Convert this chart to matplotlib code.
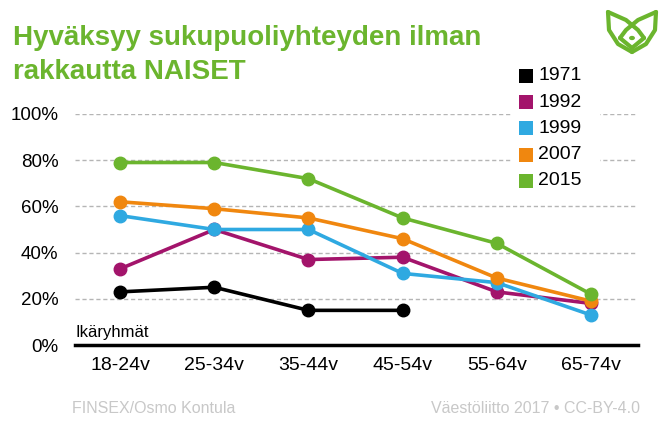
import matplotlib
matplotlib.use("Agg")
import matplotlib.pyplot as plt
from matplotlib.patches import Polygon, Circle
from matplotlib.lines import Line2D

plt.rcParams["font.family"] = ["Liberation Sans", "DejaVu Sans"]

# data
age_groups = ["18-24v", "25-34v", "35-44v", "45-54v", "55-64v", "65-74v"]
years = ["1971", "1992", "1999", "2007", "2015"]
share_1971 = [23, 25, 15, 15]
share_1992 = [33, 50, 37, 38, 23, 18]
share_1999 = [56, 50, 50, 31, 27, 13]
share_2007 = [62, 59, 55, 46, 29, 19]
share_2015 = [79, 79, 72, 55, 44, 22]
y_ticks = [0, 20, 40, 60, 80, 100]

series = [share_1971, share_1992, share_1999, share_2007, share_2015]
colors = ["#000000", "#a3146b", "#2fa9e1", "#f0870f", "#6bb52e"]
green = "#6bb52e"

fig = plt.figure(figsize=(6.62, 4.4), dpi=100)
ax = fig.add_axes([75 / 662, 1 - 345 / 440, (638 - 75) / 662, (345 - 114) / 440])

x = list(range(len(age_groups)))
ax.set_xlim(-0.48, 5.5)
ax.set_ylim(0, 100)

# dashed grid
for t in y_ticks[1:]:
    ax.axhline(t, color="#b5b5b5", lw=1, ls=(0, (3, 2)), zorder=1)
ax.axhline(0, color="black", lw=2.5, zorder=2, clip_on=False)

for vals, c in zip(series, colors):
    ax.plot(x[:len(vals)], vals, color=c, lw=2.6, marker="o", ms=9,
            zorder=3, clip_on=False)

for s in ax.spines.values():
    s.set_visible(False)
ax.set_yticks(y_ticks)
ax.set_yticklabels([f"{t}%" for t in y_ticks], fontsize=13.5)
ax.set_xticks(x)
ax.set_xticklabels(age_groups, fontsize=14)
ax.tick_params(length=0)
ax.tick_params(axis="y", pad=12)
ax.tick_params(axis="x", pad=9)

ax.text(-0.47, 2, "Ikäryhmät", fontsize=12, va="bottom", ha="left")


def fp(px, py):
    return [px / 662, 1 - py / 440]


# legend drawn by hand with white box behind it (hides gridlines)
fig.patches.append(Polygon([fp(512, 60), fp(600, 60), fp(600, 194), fp(512, 194)],
                           closed=True, transform=fig.transFigure,
                           facecolor="white", edgecolor="none", zorder=5))
for i, (yr, c) in enumerate(zip(years, colors)):
    yc = 76 + i * 26.2
    fig.patches.append(Polygon([fp(519, yc - 7), fp(533, yc - 7), fp(533, yc + 7), fp(519, yc + 7)],
                               closed=True, transform=fig.transFigure,
                               facecolor=c, edgecolor="none", zorder=6))
    fig.text(538 / 662, 1 - yc / 440, yr, fontsize=14, va="center", ha="left", zorder=6)

# title
fig.text(13 / 662, 1 - 25 / 440, "Hyväksyy sukupuoliyhteyden ilman\nrakkautta NAISET",
         fontsize=20, fontweight="bold", color=green, va="top", ha="left",
         linespacing=1.38)

# footer
fig.text(72 / 662, 1 - 408 / 440, "FINSEX/Osmo Kontula", fontsize=11.5,
         color="#c8c8c8", va="center", ha="left")
fig.text(640 / 662, 1 - 408 / 440, "Väestöliitto 2017 • CC-BY-4.0", fontsize=11.5,
         color="#c8c8c8", va="center", ha="right")

# logo
tf = fig.transFigure
logo_lines = [
    [(608, 12), (609, 30), (618, 44), (632, 52)],
    [(656, 12), (655, 30), (646, 44), (632, 52)],
    [(608, 12), (626, 20), (638, 30), (644, 38)],
    [(656, 12), (638, 20), (626, 30), (620, 38)],
    [(620, 38), (632, 48), (644, 38)],
]
for pts in logo_lines:
    xs = [p[0] / 662 for p in pts]
    ys = [1 - p[1] / 440 for p in pts]
    fig.lines.append(Line2D(xs, ys, transform=tf, color=green, lw=3,
                            solid_joinstyle="round", solid_capstyle="round"))
fig.patches.append(Circle(fp(632, 38), 2.2 / 662, transform=tf, color=green))

fig.savefig("out.png", dpi=100)
